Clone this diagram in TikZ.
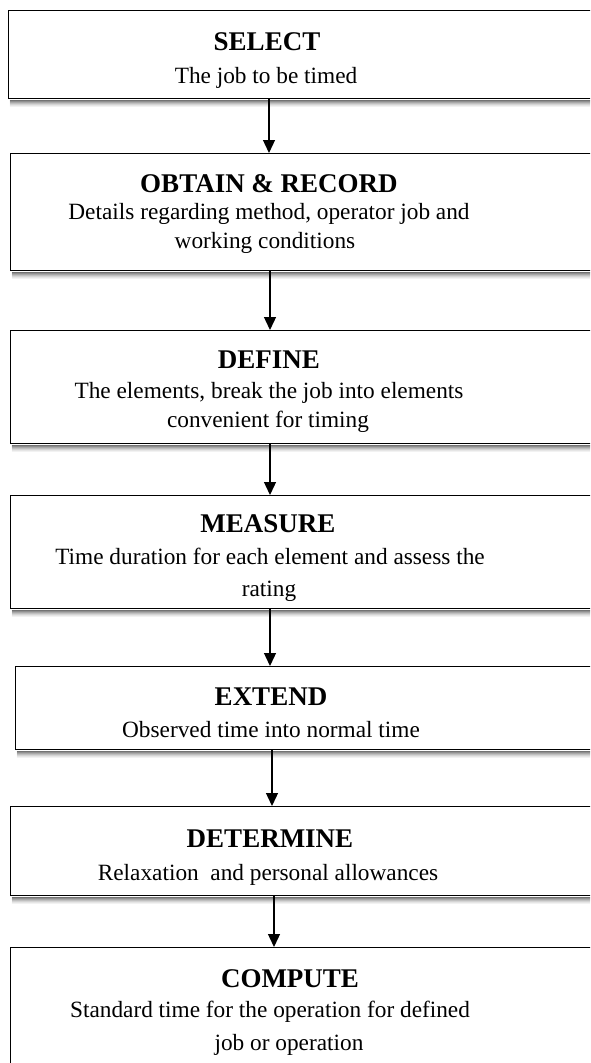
\documentclass[tikz,border=0pt]{standalone}
\usepackage{fontspec}
\setmainfont{Liberation Serif}
\usetikzlibrary{arrows.meta}
\begin{document}
\begin{tikzpicture}[x=1pt,y=-1pt,
  box/.style={draw=black, line width=1.4pt, fill=white, anchor=north west, inner sep=0pt},
  ttl/.style={anchor=base, font=\fontsize{27}{31}\selectfont\bfseries, inner sep=0pt},
  txt/.style={anchor=base, font=\fontsize{23.3}{27}\selectfont, inner sep=0pt},
  flow/.style={line width=1.3pt, -{Triangle[length=13pt,width=12pt]}}]
\useasboundingbox (0,0) rectangle (590,1063);
\clip (0,0) rectangle (590,1063);
\fill[white] (0,0) rectangle (590,1063);

% boxes
\node[box, minimum width=600pt, minimum height=88pt]  (b1) at (8,10) {};
\node[box, minimum width=600pt, minimum height=117pt] (b2) at (10,153) {};
\node[box, minimum width=600pt, minimum height=113pt] (b3) at (10,330) {};
\node[box, minimum width=600pt, minimum height=113pt] (b4) at (10,495) {};
\node[box, minimum width=600pt, minimum height=83pt]  (b5) at (15,666) {};
\node[box, minimum width=600pt, minimum height=89pt]  (b6) at (10,806) {};
\node[box, minimum width=600pt, minimum height=130pt] (b7) at (10,947) {};

% soft shadows under the boxes
\foreach \b in {b1,b2,b3,b4,b5,b6}{
  \foreach \i/\c in {1/55,2/44,3/34,4/25,5/17,6/10,7/5}{
    \draw[line width=1.05pt, black!\c]
      ([xshift=1.5pt,yshift={-0.7pt-(\i-0.5)*1pt}]\b.south west) --
      ([xshift=5pt,yshift={-0.7pt-(\i-0.5)*1pt}]\b.south east);
  }
}

% texts
\node[ttl] (t1) at (267,50) {SELECT};
\node[txt] (t1a) at (266,83) {The job to be timed};

\node[ttl] (t2) at (269,192) {OBTAIN \& RECORD};
\node[txt] (t2a) at (269,219) {Details regarding method, operator job and};
\node[txt] (t2b) at (265,248) {working conditions};

\node[ttl] (t3) at (269,368) {DEFINE};
\node[txt] (t3a) at (269,398) {The elements, break the job into elements};
\node[txt] (t3b) at (268,427) {convenient for timing};

\node[ttl] (t4) at (268,532) {MEASURE};
\node[txt] (t4a) at (270,564) {Time duration for each element and assess the};
\node[txt] (t4b) at (269,596) {rating};

\node[ttl] (t5) at (271,705) {EXTEND};
\node[txt] (t5a) at (271,737) {Observed time into normal time};

\node[ttl] (t6) at (270,847) {DETERMINE};
\node[txt] (t6a) at (268,880) {Relaxation\ \ and personal allowances};

\node[ttl] (t7) at (290,987) {COMPUTE};
\node[txt] (t7a) at (270,1017) {Standard time for the operation for defined};
\node[txt] (t7b) at (289,1050) {job or operation};

% arrow columns
\coordinate (c1) at (269,0);
\coordinate (c2) at (270,0);
\coordinate (c3) at (270,0);
\coordinate (c4) at (270,0);
\coordinate (c5) at (272,0);
\coordinate (c6) at (274,0);

\draw[flow] (b1.south -| c1) -- (b2.north -| c1);
\draw[flow] (b2.south -| c2) -- (b3.north -| c2);
\draw[flow] (b3.south -| c3) -- (b4.north -| c3);
\draw[flow] (b4.south -| c4) -- (b5.north -| c4);
\draw[flow] (b5.south -| c5) -- (b6.north -| c5);
\draw[flow] (b6.south -| c6) -- (b7.north -| c6);
\end{tikzpicture}
\end{document}
